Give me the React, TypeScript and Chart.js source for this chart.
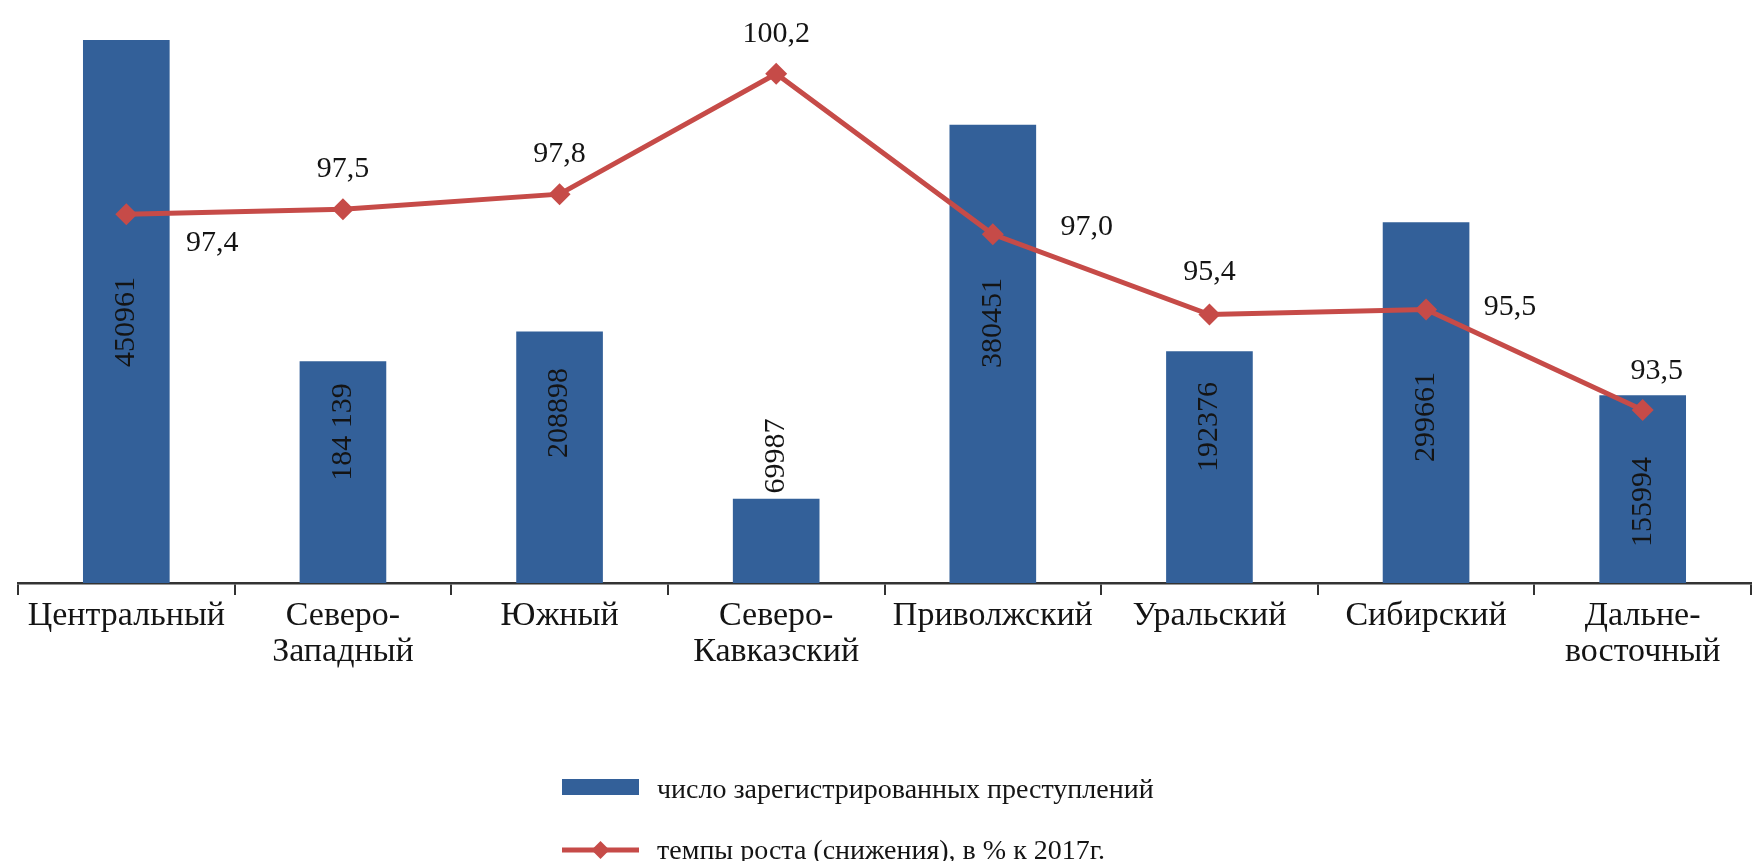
import { useEffect, useRef } from 'react';
import { Chart, registerables } from 'chart.js';

Chart.register(...registerables);

// ---- data ----
const categories: string[][] = [
  ['Центральный'],
  ['Северо-', 'Западный'],
  ['Южный'],
  ['Северо-', 'Кавказский'],
  ['Приволжский'],
  ['Уральский'],
  ['Сибирский'],
  ['Дальне-', 'восточный'],
];
const crimes = [450961, 184139, 208898, 69987, 380451, 192376, 299661, 155994];
const crimeLabels = ['450961', '184 139', '208898', '69987', '380451', '192376', '299661', '155994'];
const growth = [97.4, 97.5, 97.8, 100.2, 97.0, 95.4, 95.5, 93.5];
const crimesName = 'число зарегистрированных преступлений';
const growthName = 'темпы роста (снижения), в % к 2017г.';

// label placement (value along the bar axis where the rotated label is centred)
const crimeLabelAt = [216800, 125400, 141200, 105500, 216000, 129600, 137900, 67300];
// line label offsets from the point, px
const growthLabelOffset: [number, number][] = [
  [86, 29], [0, -40], [0, -40], [0, -40], [94, -7], [0, -42], [84, -2], [14, -39],
];

const BLUE = '#336099';
const RED = '#C64B48';
const TEXT = '#141414';
const FONT = '"Liberation Serif", "Times New Roman", serif';

const labelPlugin = {
  id: 'customLabels',
  afterDatasetsDraw(chart: any) {
    const ctx = chart.ctx as CanvasRenderingContext2D;
    const ys = chart.scales.y;
    const barMeta = chart.getDatasetMeta(0);
    const lineMeta = chart.getDatasetMeta(1);
    ctx.save();
    ctx.fillStyle = TEXT;
    ctx.font = `30px ${FONT}`;
    ctx.textAlign = 'center';
    ctx.textBaseline = 'middle';
    barMeta.data.forEach((bar: any, i: number) => {
      const cy = ys.getPixelForValue(crimeLabelAt[i]);
      ctx.save();
      ctx.translate(bar.x, cy);
      ctx.rotate(-Math.PI / 2);
      ctx.fillText(crimeLabels[i], 0, 0);
      ctx.restore();
    });
    lineMeta.data.forEach((pt: any, i: number) => {
      const [dx, dy] = growthLabelOffset[i];
      ctx.fillText(growth[i].toFixed(1).replace('.', ','), pt.x + dx, pt.y + dy);
    });
    ctx.restore();
  },
  afterDraw(chart: any) {
    const ctx = chart.ctx as CanvasRenderingContext2D;
    ctx.save();
    const x0 = 562;
    const w = 77;
    const tx = 657;
    const y1 = 787;
    const y2 = 850;
    ctx.fillStyle = BLUE;
    ctx.fillRect(x0, y1 - 8, w, 16);
    ctx.strokeStyle = RED;
    ctx.lineWidth = 5;
    ctx.beginPath();
    ctx.moveTo(x0, y2);
    ctx.lineTo(x0 + w, y2);
    ctx.stroke();
    ctx.fillStyle = RED;
    const cx = x0 + w / 2;
    const r = 9;
    ctx.beginPath();
    ctx.moveTo(cx, y2 - r);
    ctx.lineTo(cx + r, y2);
    ctx.lineTo(cx, y2 + r);
    ctx.lineTo(cx - r, y2);
    ctx.closePath();
    ctx.fill();
    ctx.fillStyle = TEXT;
    ctx.font = `28px ${FONT}`;
    ctx.textAlign = 'left';
    ctx.textBaseline = 'middle';
    ctx.fillText(crimesName, tx, y1 + 4);
    ctx.fillText(growthName, tx, y2 + 2);
    ctx.restore();
  },
};

export default function App() {
  const ref = useRef<HTMLCanvasElement | null>(null);

  useEffect(() => {
    if (!ref.current) return;
    const chart = new Chart(ref.current, {
      data: {
        labels: categories as any,
        datasets: [
          {
            type: 'bar',
            label: crimesName,
            data: crimes,
            yAxisID: 'y',
            backgroundColor: BLUE,
            borderWidth: 0,
            barPercentage: 0.4,
            categoryPercentage: 1,
            order: 2,
          },
          {
            type: 'line',
            label: growthName,
            data: growth,
            yAxisID: 'y1',
            borderColor: RED,
            backgroundColor: RED,
            borderWidth: 5,
            pointStyle: 'rectRot',
            pointRadius: 11,
            pointBorderWidth: 0,
            tension: 0,
            order: 1,
          },
        ],
      } as any,
      options: {
        responsive: false,
        animation: false,
        layout: { padding: { left: 18, right: 0, top: 10, bottom: 0 } },
        plugins: { legend: { display: false }, tooltip: { enabled: false } },
        scales: {
          x: {
            offset: true,
            grid: {
              display: true,
              offset: true,
              drawOnChartArea: false,
              drawTicks: true,
              tickLength: 12,
              color: '#333333',
              lineWidth: 2,
            },
            border: { display: true, color: '#333333', width: 2.5 },
            ticks: {
              font: { family: FONT, size: 34, lineHeight: 1.06 },
              color: TEXT,
              padding: 3,
              maxRotation: 0,
              minRotation: 0,
              autoSkip: false,
            },
            afterFit: (s: any) => {
              s.height = 278;
            },
          },
          y: { display: false, min: 0, max: 475000 },
          y1: { display: false, min: 90.05, max: 101.45 },
        },
      } as any,
      plugins: [labelPlugin],
    });
    return () => chart.destroy();
  }, []);

  return (
    <div
      style={{
        position: 'absolute',
        left: 0,
        top: 0,
        width: 1752,
        height: 861,
        overflow: 'hidden',
        background: '#fff',
      }}
    >
      <canvas ref={ref} width={1762} height={861} style={{ display: 'block' }} />
    </div>
  );
}
